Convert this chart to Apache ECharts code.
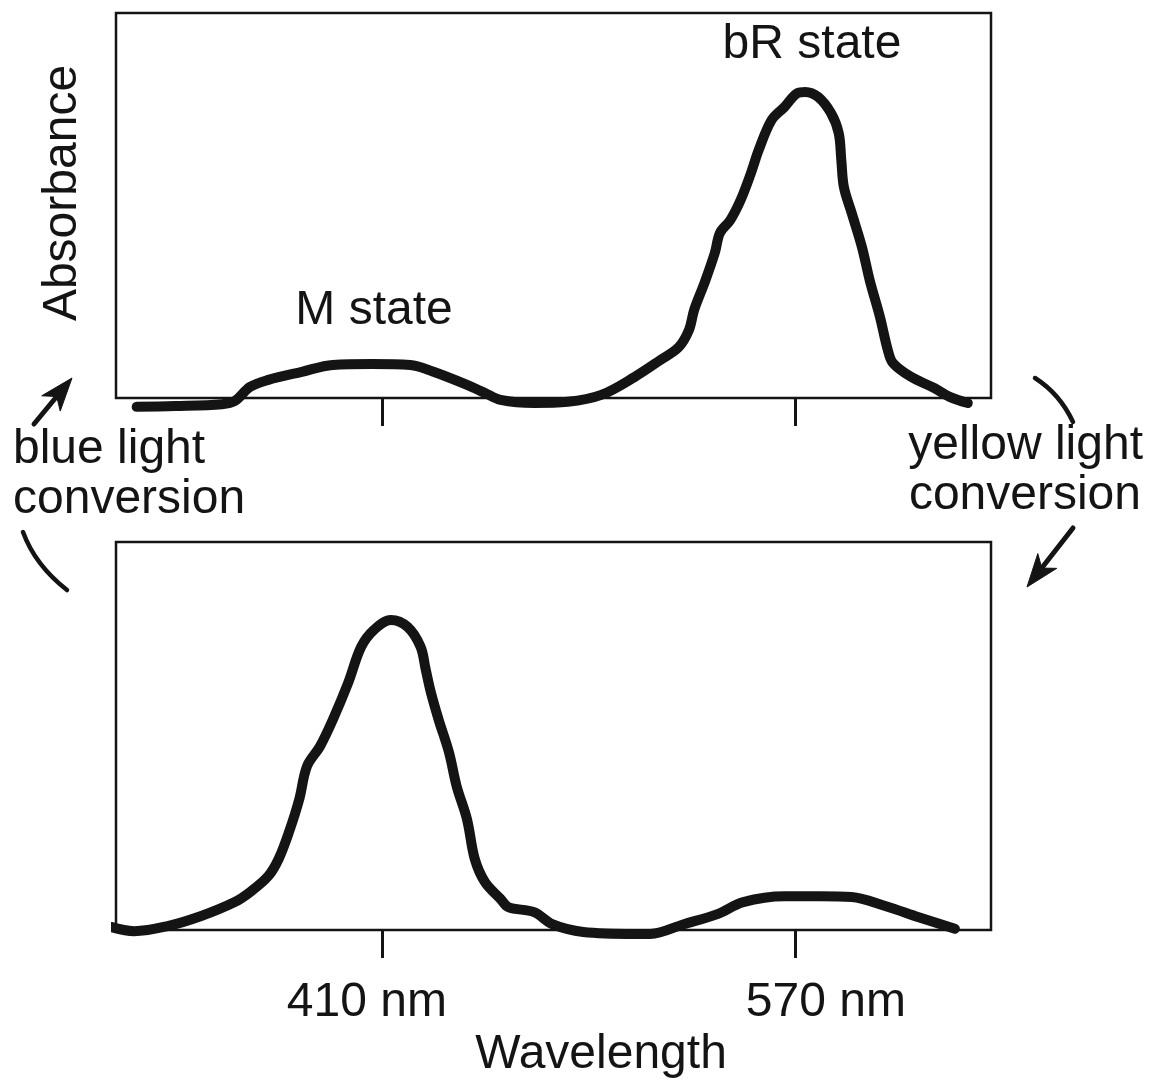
<!DOCTYPE html>
<html>
<head>
<meta charset="utf-8">
<title>bR / M state absorbance</title>
<script src="https://cdn.jsdelivr.net/npm/echarts@6/dist/echarts.min.js"></script>
<style>
  html, body { margin: 0; padding: 0; background: #fff; }
  #chart { width: 1150px; height: 1082px; }
</style>
</head>
<body>
<div id="chart"></div>
<script>
const FONT = '"Liberation Sans", Arial, Helvetica, sans-serif';
const INK = '#141414';

// wavelength axis (nm), shared by both panels
const wavelengthRange = [307, 646];
const tickValues = [410, 570];
const tickLabels = ['410 nm', '570 nm'];

// top panel: bR state spectrum (relative absorbance)
const brWavelength = [315, 330, 348, 353, 359, 366, 379, 391, 406, 421, 430, 443, 450, 456, 469, 482,
  495, 508, 518, 525, 529, 531, 535, 539, 541, 545, 549, 553, 556, 561, 566, 571, 574, 579, 584, 587,
  588, 589, 592, 596, 599, 603, 606, 608, 615, 624, 630, 637];
const brAbsorbance = [-0.023, -0.021, -0.016, -0.008, 0.029, 0.047, 0.068, 0.086, 0.088, 0.086, 0.068, 0.034, 0.013, -0.005, -0.013, -0.010,
  0.008, 0.055, 0.099, 0.132, 0.177, 0.229, 0.299, 0.377, 0.429, 0.462, 0.514, 0.584, 0.644, 0.722, 0.756, 0.792,
  0.795, 0.782, 0.740, 0.688, 0.618, 0.548, 0.481, 0.392, 0.306, 0.210, 0.125, 0.091, 0.055, 0.026, 0.003, -0.013];

// bottom panel: M state spectrum
const mWavelength = [305, 314, 327, 340, 353, 359, 366, 370, 374, 378, 381, 386, 391, 397, 402, 407,
  413.5, 420, 425, 427, 429, 432, 436, 439, 443, 446, 450, 456, 459, 469, 476, 488,
  508, 514, 527, 540, 550, 566, 580, 592, 605, 618, 632];
const mAbsorbance = [0.008, -0.003, 0.010, 0.036, 0.072, 0.098, 0.139, 0.183, 0.252, 0.337, 0.422, 0.473, 0.542, 0.638, 0.730, 0.774,
  0.799, 0.781, 0.730, 0.671, 0.612, 0.542, 0.458, 0.370, 0.285, 0.183, 0.123, 0.080, 0.059, 0.046, 0.015, -0.005,
  -0.010, -0.010, 0.015, 0.041, 0.072, 0.087, 0.087, 0.085, 0.062, 0.033, 0.003];

function pairs(xs, ys) {
  return xs.map((x, i) => [x, ys[i]]);
}

function xAxisFor(gridIndex, withLabels) {
  const axis = {
    gridIndex: gridIndex,
    type: 'value',
    min: wavelengthRange[0],
    max: wavelengthRange[1],
    axisLine: { show: false },
    splitLine: { show: false },
    axisTick: {
      show: true, customValues: tickValues, inside: false, length: 28,
      lineStyle: { color: INK, width: 3 }
    },
    axisLabel: { show: false }
  };
  if (withLabels) {
    axis.axisLabel = {
      show: true,
      customValues: tickValues,
      margin: 49,
      fontSize: 48,
      fontFamily: FONT,
      color: INK,
      // labels sit a bit off-centre from their ticks in the original
      formatter: (v) => (tickValues.indexOf(v) === 0 ? '{l|' : '{r|') + tickLabels[tickValues.indexOf(v)] + '}',
      rich: {
        l: { fontSize: 48, fontFamily: FONT, color: INK, padding: [0, 30, 0, 0] },
        r: { fontSize: 48, fontFamily: FONT, color: INK, padding: [0, 0, 0, 62] }
      }
    };
    axis.name = 'Wavelength';
    axis.nameLocation = 'middle';
    axis.nameGap = 101;
    axis.nameTextStyle = { fontSize: 48, fontFamily: FONT, color: INK, padding: [0, 0, 0, 95] };
  }
  return axis;
}

function spectrum(idx, data) {
  return {
    type: 'line',
    xAxisIndex: idx,
    yAxisIndex: idx,
    data: data,
    symbol: 'none',
    smooth: 0.35,
    clip: false,
    silent: true,
    lineStyle: { color: INK, width: 10, join: 'round', cap: 'round' }
  };
}

function label(text, x, y, align, rotation) {
  return {
    type: 'text',
    x: x, y: y,
    rotation: rotation || 0,
    style: {
      text: text,
      font: '48px ' + FONT,
      fill: INK,
      textAlign: align,
      textVerticalAlign: 'middle'
    }
  };
}

// arrow head polygon: tip, length along shaft, half width, notch depth
function arrowHead(tail, tip, len, halfW, notch) {
  const dx = tip[0] - tail[0], dy = tip[1] - tail[1];
  const n = Math.hypot(dx, dy);
  const ux = dx / n, uy = dy / n, px = -uy, py = ux;
  return [
    tip,
    [tip[0] - len * ux + halfW * px, tip[1] - len * uy + halfW * py],
    [tip[0] - notch * ux, tip[1] - notch * uy],
    [tip[0] - len * ux - halfW * px, tip[1] - len * uy - halfW * py]
  ];
}

function arrow(tail, tip) {
  const notch = 24;
  const n = Math.hypot(tip[0] - tail[0], tip[1] - tail[1]);
  const end = [tip[0] - (tip[0] - tail[0]) * notch / n, tip[1] - (tip[1] - tail[1]) * notch / n];
  return [
    { type: 'line', shape: { x1: tail[0], y1: tail[1], x2: end[0], y2: end[1] },
      style: { stroke: INK, lineWidth: 5, lineCap: 'round' } },
    { type: 'polygon', shape: { points: arrowHead(tail, tip, 33, 12, notch) },
      style: { fill: INK, stroke: INK, lineWidth: 1 } }
  ];
}

const arc = (x1, y1, cx, cy, x2, y2) => ({
  type: 'bezierCurve',
  shape: { x1: x1, y1: y1, x2: x2, y2: y2, cpx1: cx, cpy1: cy },
  style: { stroke: INK, lineWidth: 4.5, fill: null, lineCap: 'round' }
});

const chart = echarts.init(document.getElementById('chart'), null, { renderer: 'canvas' });

chart.setOption({
  backgroundColor: '#fff',
  animation: false,
  grid: [
    { left: 116, top: 13, width: 875, height: 385, show: true, borderColor: INK, borderWidth: 2.5 },
    { left: 116, top: 542, width: 875, height: 388, show: true, borderColor: INK, borderWidth: 2.5 }
  ],
  xAxis: [xAxisFor(0, false), xAxisFor(1, true)],
  yAxis: [
    { gridIndex: 0, type: 'value', min: 0, max: 1, show: false },
    { gridIndex: 1, type: 'value', min: 0, max: 1, show: false }
  ],
  series: [
    spectrum(0, pairs(brWavelength, brAbsorbance)),
    spectrum(1, pairs(mWavelength, mAbsorbance))
  ],
  graphic: [
    label('Absorbance', 63, 193, 'center', Math.PI / 2),
    label('bR state', 812, 45, 'center'),
    label('M state', 374, 311, 'center'),
    label('blue light', 13, 450, 'left'),
    label('conversion', 13, 500, 'left'),
    label('yellow light', 1143, 446, 'right'),
    label('conversion', 1141, 496, 'right'),
    arc(23, 532, 35, 565, 67, 590),
    arc(1035, 378, 1060, 394, 1073, 422),
    ...arrow([34, 424], [72, 378]),
    ...arrow([1073, 528], [1027, 587])
  ]
});
</script>
</body>
</html>
